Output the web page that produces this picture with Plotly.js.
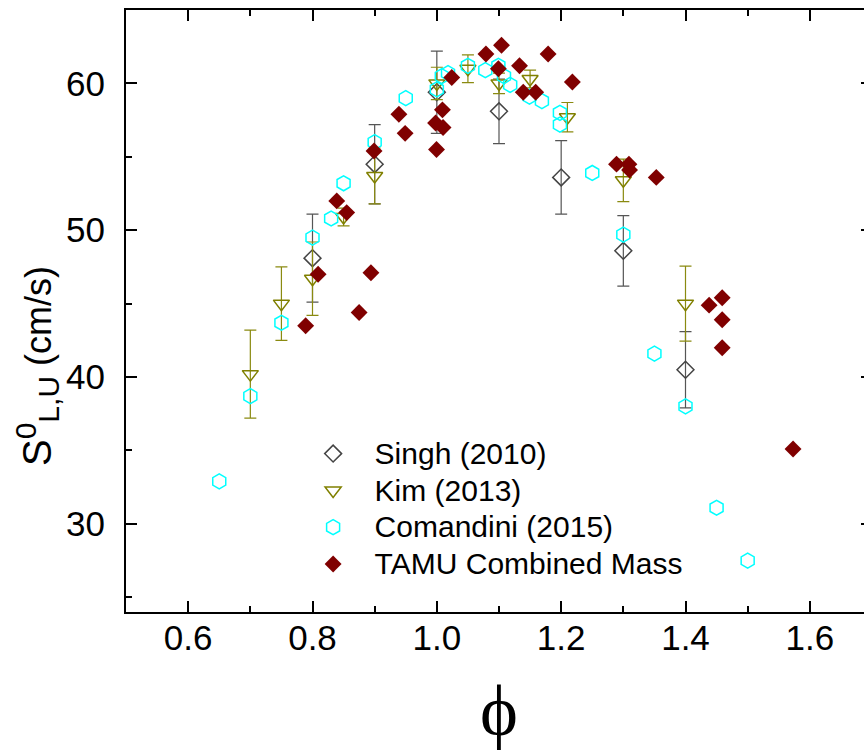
<!DOCTYPE html>
<html>
<head>
<meta charset="utf-8">
<script src="https://cdn.plot.ly/plotly-3.0.1.min.js"></script>
<style>
html, body { margin: 0; padding: 0; overflow: hidden; background: #fff; }
#chart { width: 880px; height: 751px; }
</style>
</head>
<body>
<div id="chart"></div>
<script>
// Singh (2010)
const singhPhi = [0.8, 0.9, 1.0, 1.1, 1.2, 1.3, 1.4];
const singhS   = [48.1, 54.5, 59.4, 58.1, 53.6, 48.6, 40.5];
const singhErr = [3.0, 2.7, 2.8, 2.2, 2.5, 2.4, 2.6];

// Kim (2013)
const kimPhi = [0.7, 0.75, 0.8, 0.85, 0.9, 1.0, 1.05, 1.1, 1.15, 1.21, 1.3, 1.4];
const kimS   = [40.2, 45.0, 46.7, 50.9, 53.7, 60.0, 61.0, 60.0, 60.3, 57.7, 53.4, 45.0];
const kimErr = [3.0, 2.5, 2.5, 0.6, 1.9, 1.1, 0.95, 0.7, 0.6, 1.0, 1.45, 2.55];

// Comandini (2015)
const comPhi = [0.65, 0.7, 0.75, 0.8, 0.83, 0.85, 0.9, 0.95, 1.0, 1.008, 1.018, 1.05, 1.078, 1.099, 1.108, 1.118, 1.149, 1.169, 1.198, 1.198, 1.25, 1.3, 1.35, 1.4, 1.45, 1.5];
const comS   = [32.9, 38.7, 43.7, 49.5, 50.8, 53.2, 56.0, 59.0, 59.6, 60.5, 60.7, 61.2, 60.9, 61.2, 60.5, 59.9, 59.1, 58.8, 58.0, 57.2, 53.9, 49.7, 41.6, 38.0, 31.1, 27.5];

// TAMU Combined Mass
const tamuPhi = [0.789, 0.809, 0.839, 0.855, 0.875, 0.894, 0.899, 0.939, 0.949, 0.998, 0.9995, 1.009, 1.010, 1.024, 1.079, 1.099, 1.104, 1.133, 1.139, 1.159, 1.179, 1.218, 1.289, 1.309, 1.310, 1.353, 1.438, 1.459, 1.459, 1.459, 1.573];
const tamuS   = [43.5, 47.0, 52.0, 51.2, 44.4, 47.1, 55.4, 57.9, 56.6, 57.3, 55.5, 58.2, 57.0, 60.4, 62.0, 61.0, 62.6, 61.2, 59.4, 59.4, 62.0, 60.1, 54.5, 54.5, 54.1, 53.6, 44.9, 45.4, 43.9, 42.0, 35.1];

const seriesNames = ['Singh (2010)', 'Kim (2013)', 'Comandini (2015)', 'TAMU Combined Mass'];
const xTitle = 'ϕ';
const yTitle = '<span style="font-size:40px">S</span><sup><span style="font-size:30px">0</span></sup>' +
  '<sub><span style="font-size:30px">L,U</span></sub> (cm/s)';

function legendName(s) { return '<span style="font-size:30px">' + s + '</span>'; }

const traces = [
  {
    x: singhPhi, y: singhS, name: legendName(seriesNames[0]), type: 'scatter', mode: 'markers',
    marker: { symbol: 'diamond-open', size: 13, color: '#444444', line: { width: 1.5 } },
    error_y: { type: 'data', array: singhErr, visible: true, color: '#555555', thickness: 1.2, width: 6 }
  },
  {
    x: kimPhi, y: kimS, name: legendName(seriesNames[1]), type: 'scatter', mode: 'markers',
    marker: { symbol: 'triangle-down-open', size: 14, color: '#808000', line: { width: 1.5 } },
    error_y: { type: 'data', array: kimErr, visible: true, color: '#8a8a10', thickness: 1.2, width: 6 }
  },
  {
    x: comPhi, y: comS, name: legendName(seriesNames[2]), type: 'scatter', mode: 'markers',
    marker: { symbol: 'hexagon-open', size: 15, color: '#00ffff', line: { width: 1.5 } }
  },
  {
    x: tamuPhi, y: tamuS, name: legendName(seriesNames[3]), type: 'scatter', mode: 'markers',
    marker: { symbol: 'diamond', size: 13, color: '#800000' }
  }
];

const axisCommon = {
  showline: true, linecolor: '#000', linewidth: 2, mirror: 'allticks',
  ticks: 'inside', ticklen: 11, tickwidth: 2, tickcolor: '#000',
  showgrid: false, zeroline: false,
  tickfont: { family: 'Liberation Sans, Arial, sans-serif', size: 35, color: '#000' }
};

const layout = {
  width: 880, height: 751,
  margin: { l: 126, r: 8, t: 10, b: 139 },
  paper_bgcolor: '#fff', plot_bgcolor: '#fff',
  showlegend: true,
  legend: {
    x: 0.222, y: 0.302, xanchor: 'left', yanchor: 'top',
    bgcolor: 'rgba(0,0,0,0)', borderwidth: 0,
    font: { family: 'Liberation Sans, Arial, sans-serif', size: 26, color: '#000' },
    itemwidth: 73, tracegroupgap: 0
  },
  xaxis: Object.assign({}, axisCommon, {
    range: [0.5, 1.7], tick0: 0, dtick: 0.2, tickformat: '.1f',
    minor: { dtick: 0.1, ticks: 'inside', ticklen: 6, tickwidth: 2, tickcolor: '#000' },
    ticklabelstandoff: -6,
    title: { text: xTitle, font: { family: 'Liberation Serif, DejaVu Serif, serif', size: 72, color: '#000' }, standoff: 40 }
  }),
  yaxis: Object.assign({}, axisCommon, {
    range: [24, 65], tick0: 0, dtick: 10,
    minor: { dtick: 5, ticks: 'inside', ticklen: 6, tickwidth: 2, tickcolor: '#000' },
    ticklabelstandoff: 12
  }),
  annotations: [{
    text: yTitle, xref: 'paper', yref: 'paper',
    x: (37 - 126) / 746, y: 1 - (366 - 10) / 602,
    xanchor: 'center', yanchor: 'middle', textangle: -90, showarrow: false,
    font: { family: 'Liberation Sans, Arial, sans-serif', size: 36, color: '#000' }
  }]
};

Plotly.newPlot('chart', traces, layout, { displayModeBar: false, staticPlot: true });
</script>
</body>
</html>
